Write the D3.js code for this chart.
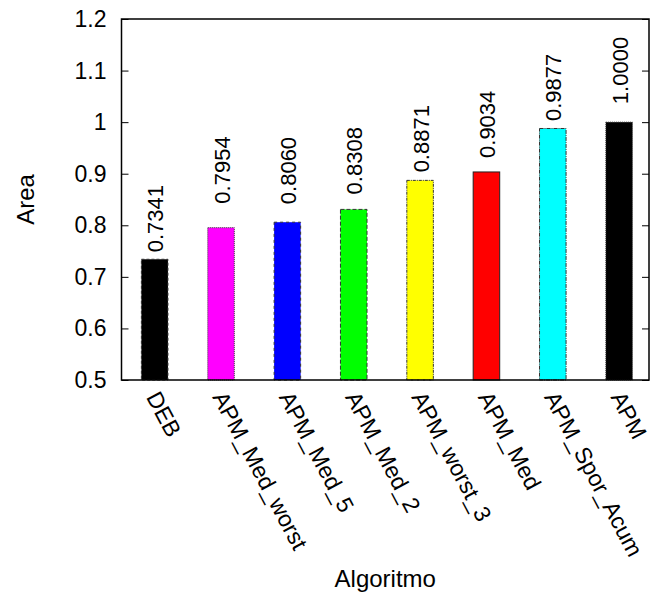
<!DOCTYPE html>
<html>
<head>
<meta charset="utf-8">
<script src="https://cdn.jsdelivr.net/npm/d3@7"></script>
<style>
  html, body { margin: 0; padding: 0; background: #fff; }
  svg text { font-family: "Liberation Sans", Arial, Helvetica, sans-serif; fill: #000; }
</style>
</head>
<body>
<svg id="chart" width="652" height="594"></svg>
<script>
const categories = ["DEB", "APM_Med_worst", "APM_Med_5", "APM_Med_2", "APM_worst_3", "APM_Med", "APM_Spor_Acum", "APM"];
const values = [0.7341, 0.7954, 0.8060, 0.8308, 0.8871, 0.9034, 0.9877, 1.0000];
const valueLabels = ["0.7341", "0.7954", "0.8060", "0.8308", "0.8871", "0.9034", "0.9877", "1.0000"];
const barColors = ["#000000", "#ff00ff", "#0000ff", "#00ff00", "#ffff00", "#ff0000", "#00ffff", "#000000"];
const yTicks = [0.5, 0.6, 0.7, 0.8, 0.9, 1.0, 1.1, 1.2];
const yTickLabels = ["0.5", "0.6", "0.7", "0.8", "0.9", "1", "1.1", "1.2"];
const xTitle = "Algoritmo";
const yTitle = "Area";

// layout / style
const borderDashes = ["3,2", "1,1", "3,3", "4,2", "3,1,1,1", null, "4,1,1,1", "1,1"];
const labelGapPx = [7, 24, 18, 15, 8, 14, 7.5, 18];

const svg = d3.select("#chart");
const mLeft = 121.5, mRight = 649, mTop = 19, mBottom = 380;

const x = d3.scaleLinear().domain([-0.5, 7.45]).range([mLeft, mRight]);
const y = d3.scaleLinear().domain([0.5, 1.2]).range([mBottom, mTop]);
const barW = 0.4;

// Bars
const bars = svg.append("g");
categories.forEach((c, i) => {
  bars.append("rect")
    .attr("x", x(i - barW / 2))
    .attr("y", y(values[i]))
    .attr("width", x(i + barW / 2) - x(i - barW / 2))
    .attr("height", y(0.5) - y(values[i]))
    .attr("fill", barColors[i])
    .attr("stroke", i === 5 ? "#222" : "#333")
    .attr("stroke-width", 1)
    .attr("stroke-dasharray", borderDashes[i]);
});

// Value labels
categories.forEach((c, i) => {
  const cx = x(i), ty = y(values[i]) - labelGapPx[i];
  svg.append("text")
    .attr("transform", `translate(${cx + 8.5},${ty}) rotate(-90)`)
    .attr("text-anchor", "start")
    .attr("font-size", 22)
    .text(valueLabels[i]);
});

// Frame
svg.append("rect")
  .attr("x", mLeft).attr("y", mTop)
  .attr("width", mRight - mLeft).attr("height", mBottom - mTop)
  .attr("fill", "none").attr("stroke", "#000").attr("stroke-width", 1.5);

// Y axis ticks (inward, mirrored)
const yAxisL = d3.axisRight(y).tickValues(yTicks).tickSize(7).tickFormat("");
const gl = svg.append("g").attr("transform", `translate(${mLeft},0)`).call(yAxisL);
gl.select(".domain").remove();
const yAxisR = d3.axisLeft(y).tickValues(yTicks).tickSize(7).tickFormat("");
const gr = svg.append("g").attr("transform", `translate(${mRight},0)`).call(yAxisR);
gr.select(".domain").remove();
svg.selectAll(".tick line").attr("stroke", "#000").attr("stroke-width", 1);

// Y tick labels
yTicks.forEach((t, i) => {
  svg.append("text")
    .attr("x", mLeft - 15)
    .attr("y", y(t) + 8)
    .attr("text-anchor", "end")
    .attr("font-size", 23)
    .text(yTickLabels[i]);
});

// X category labels
categories.forEach((c, i) => {
  svg.append("text")
    .attr("transform", `translate(${x(i) - 9},${mBottom + 17}) rotate(62)`)
    .attr("text-anchor", "start")
    .attr("font-size", 23)
    .text(c);
});

// Axis titles
svg.append("text")
  .attr("x", (mLeft + mRight) / 2)
  .attr("y", 587)
  .attr("text-anchor", "middle")
  .attr("font-size", 24)
  .text(xTitle);

svg.append("text")
  .attr("transform", `translate(34,${(mTop + mBottom) / 2}) rotate(-90)`)
  .attr("text-anchor", "middle")
  .attr("font-size", 24)
  .text(yTitle);
</script>
</body>
</html>
